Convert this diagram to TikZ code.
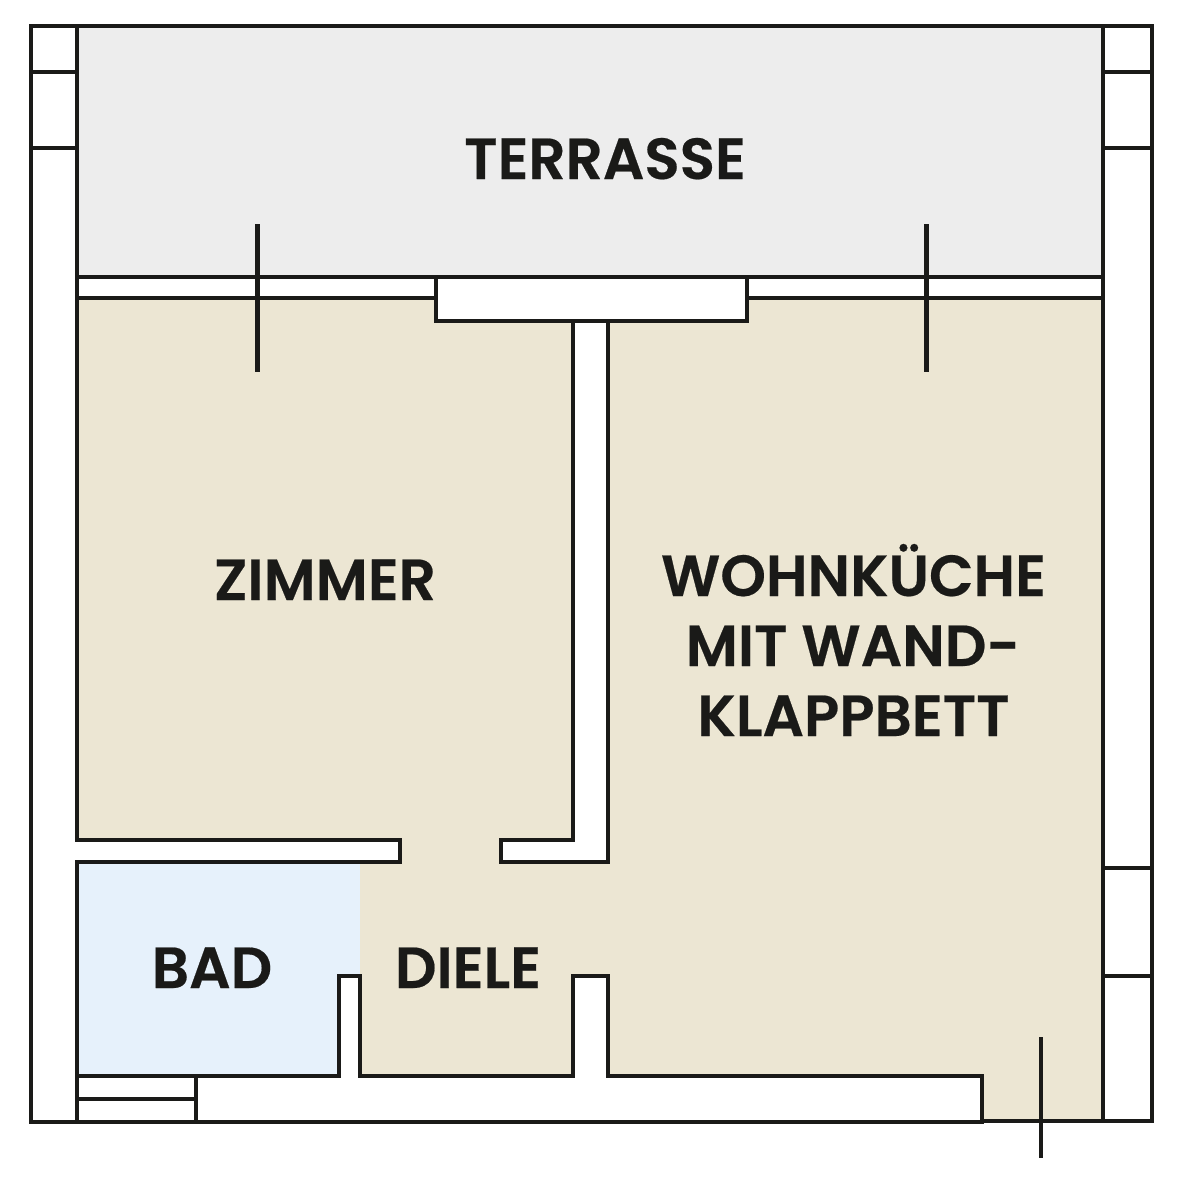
\documentclass[tikz,border=0pt]{standalone}
\usepackage{fontspec}
\setmainfont[FakeBold=0.35]{Poppins SemiBold}
\definecolor{ink}{HTML}{1A1A18}
\definecolor{terr}{HTML}{EDEDED}
\definecolor{beige}{HTML}{ECE6D3}
\definecolor{bath}{HTML}{E6F1FB}
\tikzset{
  wall/.style={draw=ink,line width=4.4pt,line join=miter,line cap=rect},
  wallfill/.style={wall,fill=white},
  label/.style={anchor=base,text=ink,font=\fontsize{58}{58}\selectfont,inner sep=0pt,align=center}
}
\begin{document}
\begin{tikzpicture}[x=1pt,y=-1pt]
\useasboundingbox (0,0) rectangle (1181,1181);
\fill[white] (0,0) rectangle (1181,1181);
% room areas
\fill[terr] (77,26) rectangle (1103,277);
\fill[beige] (77,298) rectangle (1103,1121);
\fill[bath] (77,862) rectangle (360,1076);
% outer walls
\draw[wall] (31,26) -- (1152,26) -- (1152,1121) -- (982,1121);
\draw[wall] (982,1122) -- (31,1122) -- (31,26);
\draw[wall] (77,26) -- (77,840);
\draw[wall] (77,862) -- (77,1122);
\draw[wall] (1103,26) -- (1103,1121);
% crossbars
\foreach \y in {72,148} {
  \draw[wall] (31,\y) -- (77,\y);
  \draw[wall] (1103,\y) -- (1152,\y);
}
\foreach \y in {868,976} \draw[wall] (1103,\y) -- (1152,\y);
% terrace wall
\draw[wall] (77,277) -- (1103,277);
\draw[wall] (77,298) -- (436,298);
\draw[wall] (747,298) -- (1103,298);
% central pier and stem
\draw[wallfill] (573,321) -- (573,840) -- (501,840) -- (501,862) -- (608,862) -- (608,321);
\draw[wallfill] (436,277) rectangle (747,321);
% zimmer wall
\fill[white] (77,840) rectangle (400,862);
\draw[wall] (77,840) -- (400,840) -- (400,862) -- (77,862);
% bottom wall
\draw[wallfill] (77,1076) -- (339,1076) -- (339,976) -- (360,976) -- (360,1076) -- (573,1076) -- (573,976) -- (608,976) -- (608,1076) -- (982,1076) -- (982,1122) -- (77,1122) -- cycle;
\draw[wall] (196,1076) -- (196,1122);
\draw[wall] (77,1099) -- (196,1099);
% ticks
\draw[wall,line cap=butt] (257.5,224) -- (257.5,372);
\draw[wall,line cap=butt] (926.5,224) -- (926.5,372);
\draw[wall,line cap=butt] (1041,1037) -- (1041,1158);
% labels
\node[label] (terrasse) at (605,179) {TERRASSE};
\node[label] (zimmer) at (325,600) {ZIMMER};
\node[label] (wk1) at (853.5,596) {WOHNKÜCHE};
\node[label] (wk2) at (853,666) {MIT WAND-};
\node[label] (wk3) at (853.5,736) {KLAPPBETT};
\node[label] (bad) at (212,988) {BAD};
\node[label] (diele) at (468,988) {DIELE};
\end{tikzpicture}
\end{document}
